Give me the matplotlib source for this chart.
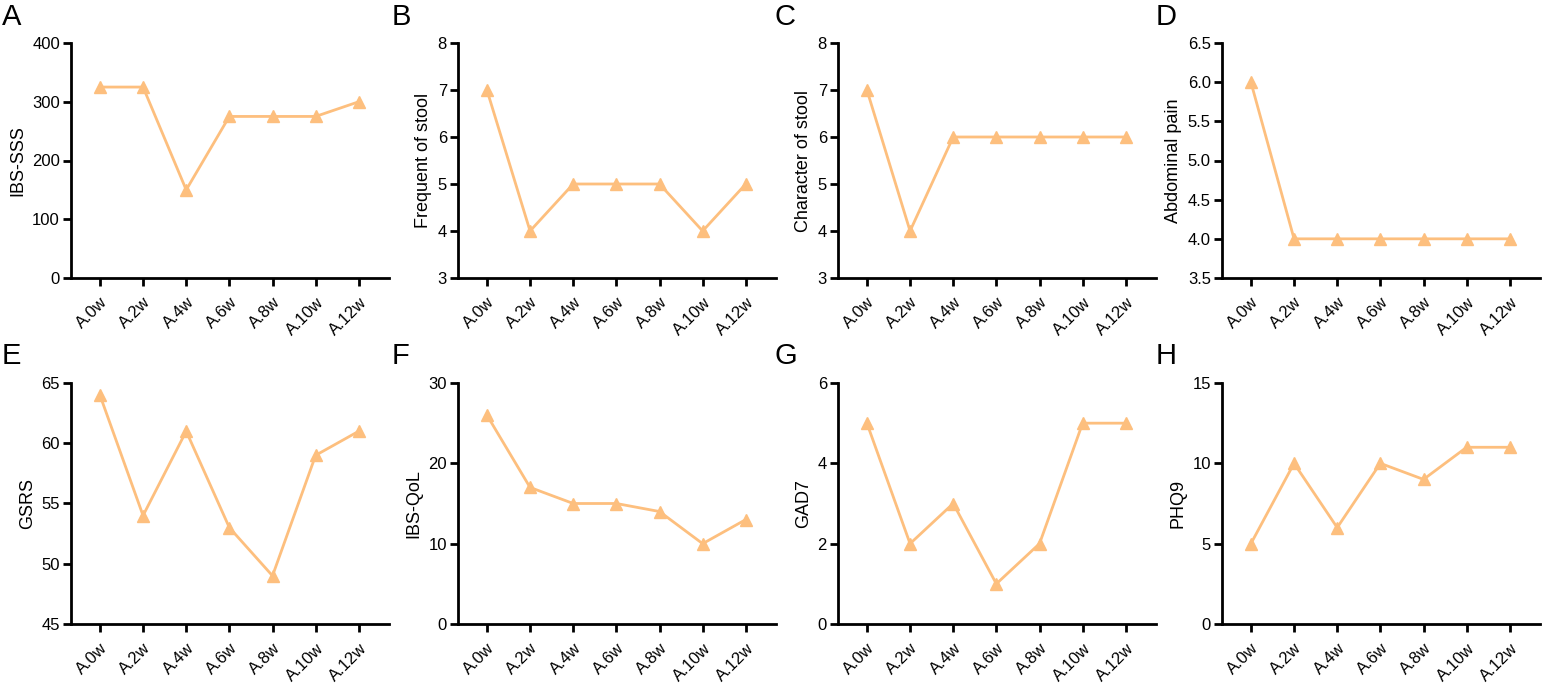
import matplotlib
matplotlib.use("Agg")
import matplotlib.pyplot as plt
import numpy as np

plt.rcParams['font.family'] = ['Liberation Sans', 'DejaVu Sans']

weeks = ["A.0w", "A.2w", "A.4w", "A.6w", "A.8w", "A.10w", "A.12w"]
letters = ["A", "B", "C", "D", "E", "F", "G", "H"]
ylabels = ["IBS-SSS", "Frequent of stool", "Character of stool", "Abdominal pain",
           "GSRS", "IBS-QoL", "GAD7", "PHQ9"]
ibs_sss = [325, 325, 150, 275, 275, 275, 300]
freq_stool = [7, 4, 5, 5, 5, 4, 5]
char_stool = [7, 4, 6, 6, 6, 6, 6]
abd_pain = [6, 4, 4, 4, 4, 4, 4]
gsrs = [64, 54, 61, 53, 49, 59, 61]
ibs_qol = [26, 17, 15, 15, 14, 10, 13]
gad7 = [5, 2, 3, 1, 2, 5, 5]
phq9 = [5, 10, 6, 10, 9, 11, 11]
series = [ibs_sss, freq_stool, char_stool, abd_pain, gsrs, ibs_qol, gad7, phq9]
yticks = [
    [0, 100, 200, 300, 400],
    [3, 4, 5, 6, 7, 8],
    [3, 4, 5, 6, 7, 8],
    [3.5, 4.0, 4.5, 5.0, 5.5, 6.0, 6.5],
    [45, 50, 55, 60, 65],
    [0, 10, 20, 30],
    [0, 2, 4, 6],
    [0, 5, 10, 15],
]

W, H = 1544, 684
fig = plt.figure(figsize=(W / 100, H / 100), dpi=100)
color = "#FDBF7E"

lefts = [71, 458, 838, 1222]
rows = [(43, 278), (383, 624)]
letter_x = [2, 392, 774, 1156]
letter_y = [3, 342]

for i in range(8):
    r, c = divmod(i, 4)
    top, bot = rows[r]
    x0 = lefts[c]
    ax = fig.add_axes([x0 / W, 1 - bot / H, 318 / W, (bot - top) / H])
    x = np.arange(len(weeks))
    ax.plot(x, series[i], color=color, lw=2, marker='^', ms=9, mec=color, mfc=color, clip_on=False)
    ax.set_xlim(-0.67, 6.7)
    ax.set_ylim(yticks[i][0], yticks[i][-1])
    ax.set_yticks(yticks[i])
    if i == 3:
        ax.set_yticklabels([f"{v:.1f}" for v in yticks[i]])
    ax.set_xticks(x)
    ax.set_xticklabels(weeks, rotation=45, ha='right', rotation_mode='anchor')
    for s in ['top', 'right']:
        ax.spines[s].set_visible(False)
    for s in ['left', 'bottom']:
        ax.spines[s].set_linewidth(2)
    ax.tick_params(axis='both', which='major', direction='out', length=6, width=2,
                   labelsize=12, color='black')
    ax.tick_params(axis='x', pad=6)
    ax.tick_params(axis='y', pad=2)
    ax.set_ylabel(ylabels[i], fontsize=13, labelpad=4)
    fig.text(letter_x[c] / W, 1 - letter_y[r] / H, letters[i], fontsize=21,
             ha='left', va='top')

fig.savefig("out.png", dpi=100)
